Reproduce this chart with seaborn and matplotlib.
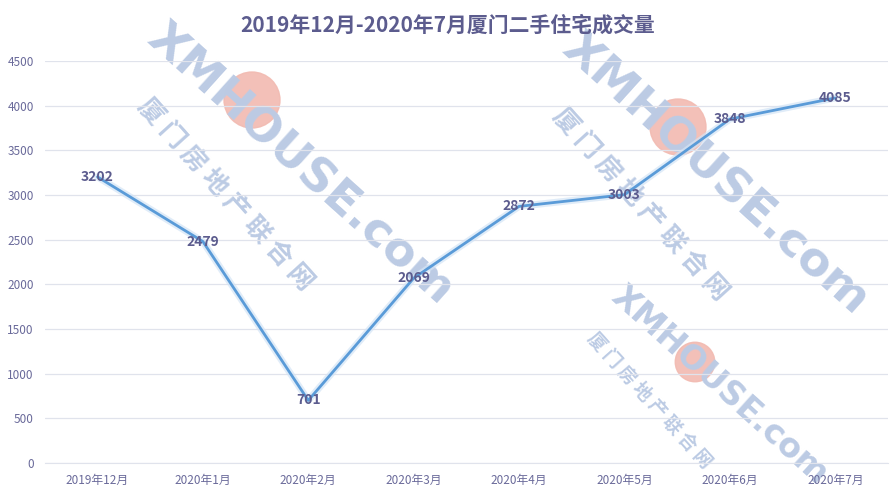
import numpy as np
import matplotlib
matplotlib.use("Agg")
import matplotlib.pyplot as plt
import matplotlib.patheffects as pe
from matplotlib.patches import Ellipse
import seaborn as sns
import pandas as pd

months = ["2019年12月", "2020年1月", "2020年2月", "2020年3月",
          "2020年4月", "2020年5月", "2020年6月", "2020年7月"]
volumes = [3202, 2479, 701, 2069, 2872, 3003, 3848, 4085]
title = "2019年12月-2020年7月厦门二手住宅成交量"

sns.set_style("white")
plt.rcParams['font.family'] = ['Noto Sans CJK SC', 'DejaVu Sans']

LINE = "#5a9bd8"
TEXT = "#5c5c8e"
TICK = "#6a6a9a"
GRID = "#e0e3ec"
WM = "#bccbe4"

W, H = 896, 499
fig = plt.figure(figsize=(8.96, 4.99), dpi=100)
ax = fig.add_axes([0.050, 0.072, 0.941, 0.806])
ax.set_zorder(2)

df = pd.DataFrame({"month": months, "volume": volumes})
df["x"] = np.arange(len(months))

# watermark (decoration): (english centre px, chinese centre px, logo centre px, size)
marks = [((300, 165), (225, 195), (252, 100), 34),
         ((715, 175), (640, 205), (678, 127), 34),
         ((720, 385), (650, 400), (695, 362), 24)]
for (ex, ey), (cx, cy), (lx, ly), fs in marks:
    fig.text(ex / W, 1 - ey / H, "XMHOUSE.com", rotation=-42, fontsize=fs,
             fontweight="bold", color=WM, ha="center", va="center", zorder=0,
             family=["DejaVu Sans"])
    fig.text(cx / W, 1 - cy / H, "厦 门 房 地 产 联 合 网", rotation=-48,
             fontsize=fs * 0.55, fontweight="bold", color=WM, ha="center",
             va="center", zorder=0)
    r = 28 * fs / 34
    fig.patches.append(Ellipse((lx / W, 1 - ly / H), 2 * r / W, 2 * r / H,
                               transform=fig.transFigure, color="#f2bab1",
                               zorder=0, alpha=0.9))

sns.lineplot(data=df, x="x", y="volume", ax=ax, color=LINE, linewidth=2.0,
             zorder=3, path_effects=[pe.Stroke(linewidth=5, foreground="#d3e4f6", alpha=0.7),
                                     pe.Normal()])

for xi, v in zip(df["x"], df["volume"]):
    ax.text(xi, v, str(v), ha="center", va="center", fontsize=10, fontweight="bold",
            color=TEXT, zorder=4)

ax.set_xlim(-0.5, len(months) - 0.5)
ax.set_ylim(0, 4500)
ax.set_yticks(np.arange(0, 4501, 500))
ax.set_xticks(df["x"])
ax.set_xticklabels(months)
ax.set_xticks(np.arange(-0.5, len(months), 1), minor=True)
ax.tick_params(axis="x", which="major", length=0, labelsize=8.5, labelcolor=TICK, pad=8)
ax.tick_params(axis="x", which="minor", length=4, color=GRID)
ax.tick_params(axis="y", length=0, labelsize=8.5, labelcolor=TICK, pad=8)
ax.yaxis.grid(True, color=GRID, linewidth=0.9)
ax.set_axisbelow(True)
for s in ["top", "right", "left"]:
    ax.spines[s].set_visible(False)
ax.spines["bottom"].set_color(GRID)
ax.set_xlabel("")
ax.set_ylabel("")
ax.patch.set_alpha(0)

fig.text(0.5, 0.95, title, ha="center", va="center", fontsize=15, fontweight="bold",
         color=TEXT)

fig.savefig("out.png", dpi=100)
